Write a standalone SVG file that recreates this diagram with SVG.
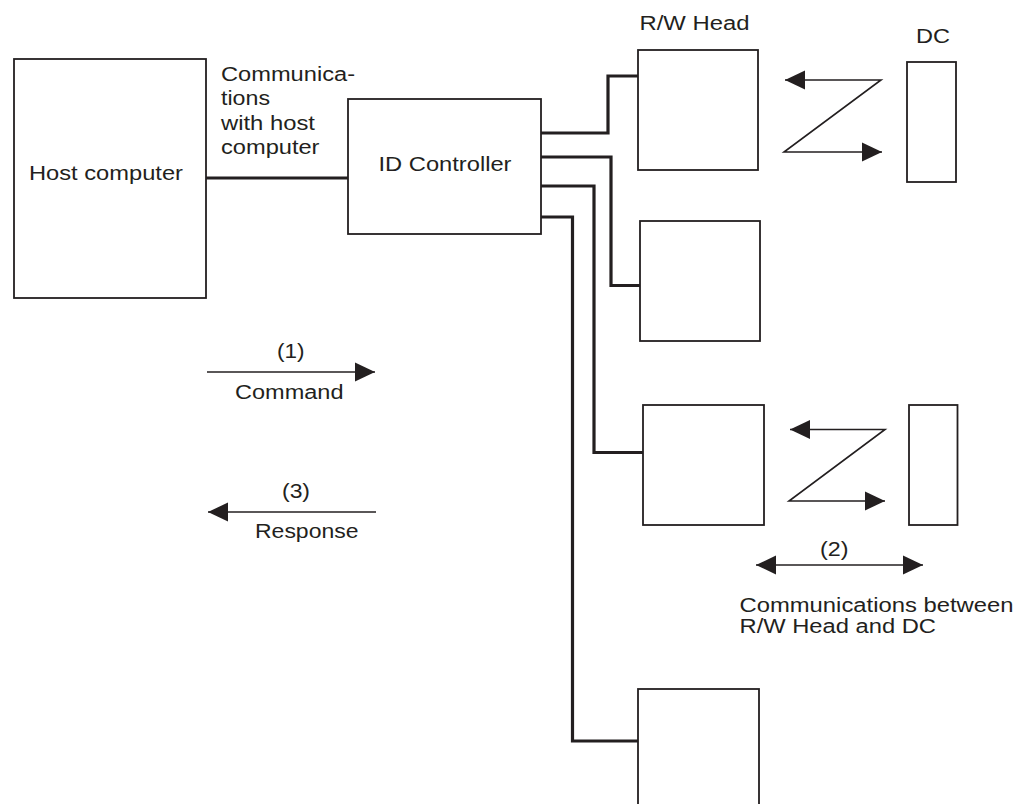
<svg xmlns="http://www.w3.org/2000/svg" width="1024" height="804" viewBox="0 0 1024 804">
  <style>
    .box { fill: #ffffff; stroke: #231f20; stroke-width: 1.8; }
    .wire { fill: none; stroke: #231f20; stroke-width: 3.2; stroke-linejoin: miter; }
    .arr { fill: none; stroke: #231f20; stroke-width: 1.6; }
    text { font-family: "Liberation Sans", Arial, Helvetica, sans-serif; font-size: 20px; fill: #231f20; }
  </style>
  <defs>
    <marker id="ah" markerUnits="userSpaceOnUse" markerWidth="20" markerHeight="20" refX="20" refY="10" orient="auto-start-reverse" viewBox="0 0 20 20">
      <path d="M0,0.5 L20,10 L0,19.5 z" fill="#231f20"/>
    </marker>
  </defs>
  <rect width="1024" height="804" fill="#ffffff"/>

  <g id="connectors">
    <path class="wire" d="M206,178 H348"/>
    <path class="wire" d="M541,133 H608 V76 H638"/>
    <path class="wire" d="M541,157 H611 V285.5 H640"/>
    <path class="wire" d="M541,186 H594 V452.5 H643"/>
    <path class="wire" d="M541,217 H572.5 V741 H638"/>
    <path class="arr" d="M785,80 H881 L784,152 H882" marker-start="url(#ah)" marker-end="url(#ah)"/>
    <path class="arr" d="M790,429.5 H885 L789,501 H885" marker-start="url(#ah)" marker-end="url(#ah)"/>
    <path class="arr" d="M756,565 H923" marker-start="url(#ah)" marker-end="url(#ah)"/>
    <path class="arr" d="M207,372 H375" marker-end="url(#ah)"/>
    <path class="arr" d="M376,512 H208" marker-end="url(#ah)"/>
  </g>

  <g id="host">
    <rect class="box" x="14" y="59" width="192" height="239"/>
    <text x="29" y="180" textLength="154" lengthAdjust="spacingAndGlyphs">Host computer</text>
  </g>

  <g id="host-comm-label">
    <text x="221" y="81" textLength="134" lengthAdjust="spacingAndGlyphs">Communica-</text>
    <text x="221" y="105" textLength="49" lengthAdjust="spacingAndGlyphs">tions</text>
    <text x="221" y="129.5" textLength="94" lengthAdjust="spacingAndGlyphs">with host</text>
    <text x="221" y="154" textLength="98.5" lengthAdjust="spacingAndGlyphs">computer</text>
  </g>

  <g id="id-controller">
    <rect class="box" x="348" y="99" width="193" height="135"/>
    <text x="378.5" y="171" textLength="133" lengthAdjust="spacingAndGlyphs">ID Controller</text>
  </g>

  <g id="rw-head-1">
    <text x="639.5" y="30" textLength="110" lengthAdjust="spacingAndGlyphs">R/W Head</text>
    <rect class="box" x="638" y="50" width="120" height="120"/>
  </g>
  <g id="dc-1">
    <text x="916" y="42.5" textLength="34" lengthAdjust="spacingAndGlyphs">DC</text>
    <rect class="box" x="907" y="62" width="49" height="120"/>
  </g>
  <g id="rw-head-2">
    <rect class="box" x="640" y="221" width="120" height="120"/>
  </g>
  <g id="rw-head-3">
    <rect class="box" x="643" y="405" width="121" height="120"/>
  </g>
  <g id="dc-2">
    <rect class="box" x="909" y="405" width="48.5" height="120"/>
  </g>
  <g id="rw-head-4">
    <rect class="box" x="638" y="689" width="121" height="130"/>
  </g>

  <g id="labels">
    <text x="277" y="358" textLength="27.5" lengthAdjust="spacingAndGlyphs">(1)</text>
    <text x="235" y="398.5" textLength="108.5" lengthAdjust="spacingAndGlyphs">Command</text>
    <text x="282" y="498" textLength="28" lengthAdjust="spacingAndGlyphs">(3)</text>
    <text x="255" y="538" textLength="103.5" lengthAdjust="spacingAndGlyphs">Response</text>
    <text x="820" y="555.5" textLength="28.5" lengthAdjust="spacingAndGlyphs">(2)</text>
    <text x="739.5" y="611.5" textLength="274" lengthAdjust="spacingAndGlyphs">Communications between</text>
    <text x="739.5" y="632.5" textLength="196.5" lengthAdjust="spacingAndGlyphs">R/W Head and DC</text>
  </g>
</svg>
